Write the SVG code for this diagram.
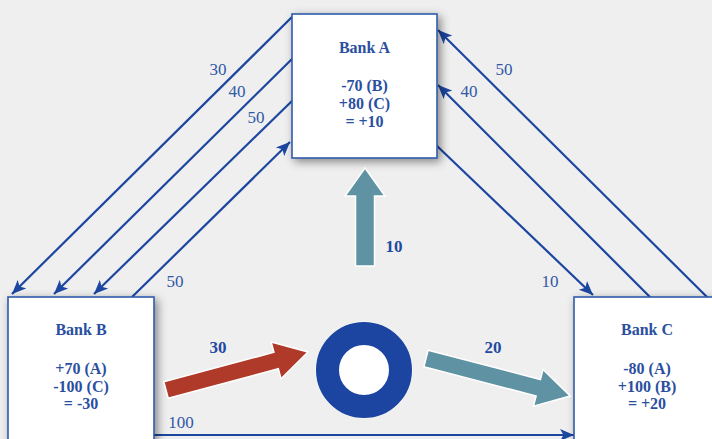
<svg xmlns="http://www.w3.org/2000/svg" width="712" height="439" viewBox="0 0 712 439">
<style>
.bx{fill:#ffffff;stroke:#2f5bab;stroke-width:1.6;filter:url(#sh)}
.bt{font-family:"Liberation Serif",serif;font-weight:bold;font-size:16px;fill:#2a4f9f;text-anchor:middle}
.ln{stroke:#1c46a0;stroke-width:2.2;fill:none;marker-end:url(#ah)}
.lb{font-family:"Liberation Serif",serif;font-size:17px;fill:#2f58a6;text-anchor:middle}
.fb{font-family:"Liberation Serif",serif;font-weight:bold;font-size:17px;fill:#1f4aa0;text-anchor:middle}
.fa{stroke:#ffffff;stroke-width:1.5}
</style>
<defs>
<filter id="sh" x="-20%" y="-20%" width="150%" height="150%">
<feDropShadow dx="3" dy="3" stdDeviation="5" flood-color="#000" flood-opacity="0.45"/>
</filter>
<marker id="ah" markerUnits="userSpaceOnUse" markerWidth="16" markerHeight="14" viewBox="-14 -7 16 14" refX="0" refY="0" orient="auto">
<path d="M0,0 L-14,-6 L-10.5,0 L-14,6 z" fill="#1c46a0"/>
</marker>
</defs>
<rect width="712" height="439" fill="#efefef"/>
<g id="connectors">
<line class="ln" x1="293" y1="16" x2="12" y2="294"/>
<line class="ln" x1="293" y1="58" x2="54" y2="294"/>
<line class="ln" x1="293" y1="100" x2="94" y2="294"/>
<line class="ln" x1="132" y1="297" x2="290" y2="142"/>
<line class="ln" x1="708" y1="298" x2="438" y2="30"/>
<line class="ln" x1="651" y1="298" x2="438" y2="85"/>
<line class="ln" x1="436" y1="145" x2="593" y2="295"/>
<line class="ln" x1="150" y1="435" x2="574" y2="435"/>
<text class="lb" x="218" y="75">30</text>
<text class="lb" x="237" y="97">40</text>
<text class="lb" x="256" y="123">50</text>
<text class="lb" x="175" y="287">50</text>
<text class="lb" x="504" y="75">50</text>
<text class="lb" x="469" y="97">40</text>
<text class="lb" x="550" y="287">10</text>
<text class="lb" x="181" y="428">100</text>
</g>
<g id="bankA">
<rect class="bx" x="292" y="14" width="145" height="144"/>
<text class="bt" x="364.5" y="53">Bank A</text>
<text class="bt" x="364.5" y="91">-70 (B)</text>
<text class="bt" x="364.5" y="109">+80 (C)</text>
<text class="bt" x="364.5" y="127">= +10</text>
</g>
<g id="bankB">
<rect class="bx" x="8" y="297" width="146" height="170"/>
<text class="bt" x="81" y="335">Bank B</text>
<text class="bt" x="81" y="374">+70 (A)</text>
<text class="bt" x="81" y="392">-100 (C)</text>
<text class="bt" x="81" y="409">= -30</text>
</g>
<g id="bankC">
<rect class="bx" x="574" y="297" width="146" height="170"/>
<text class="bt" x="647" y="335">Bank C</text>
<text class="bt" x="647" y="374">-80 (A)</text>
<text class="bt" x="647" y="392">+100 (B)</text>
<text class="bt" x="647" y="409">= +20</text>
</g>
<g id="clearing">
<circle cx="364" cy="370" r="48.5" fill="#ffffff"/>
<circle cx="364" cy="370" r="36.5" fill="none" stroke="#1b45a0" stroke-width="23"/>
</g>
<g id="flowA">
<path class="fa" fill="#5f93a3" d="M355.5,266 L355.5,196 L345,196 L365,168 L385,196 L374.5,196 L374.5,266 Z"/>
<text class="fb" x="394" y="252">10</text>
</g>
<g id="flowB">
<path class="fa" fill="#b03a2a" transform="translate(166,390) rotate(-15)" d="M0,-8.5 L114,-8.5 L114,-19 L147,0 L114,19 L114,8.5 L0,8.5 Z"/>
<text class="fb" x="218" y="353">30</text>
</g>
<g id="flowC">
<path class="fa" fill="#5f93a3" transform="translate(426,358.5) rotate(14.6)" d="M0,-8.5 L116,-8.5 L116,-19 L149,0 L116,19 L116,8.5 L0,8.5 Z"/>
<text class="fb" x="493" y="353">20</text>
</g>
</svg>
